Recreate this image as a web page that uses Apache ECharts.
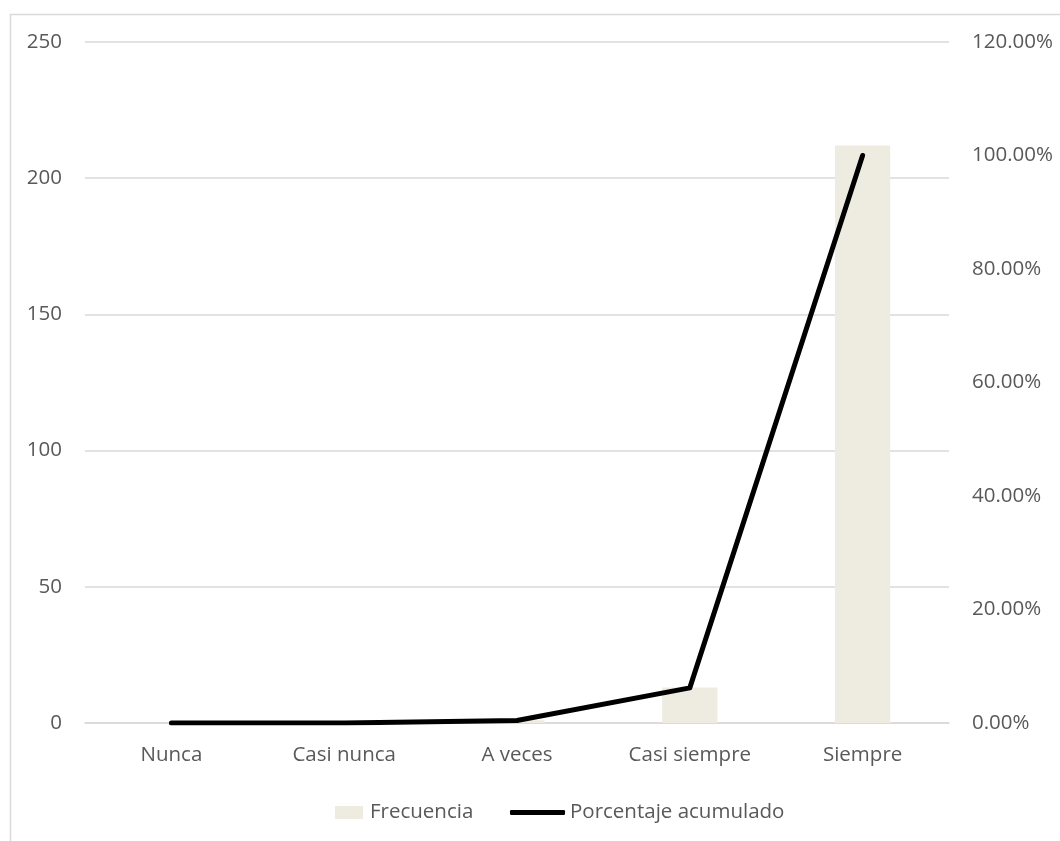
<!DOCTYPE html>
<html>
<head>
<meta charset="utf-8">
<script src="https://cdn.jsdelivr.net/npm/echarts@6/dist/echarts.min.js"></script>
<style>
html,body{margin:0;padding:0;background:#fff;}
#chart{width:1060px;height:841px;}
</style>
</head>
<body>
<div id="chart"></div>
<script>
const categories = ['Nunca', 'Casi nunca', 'A veces', 'Casi siempre', 'Siempre'];
const frecuencia = [0, 0, 1, 13, 212];
const porcentajeAcumulado = [0, 0, 0.44, 6.19, 100];
const leftTicks = {min: 0, max: 250, interval: 50};
const rightTicks = {min: 0, max: 120, interval: 20};

const FONT = 'Open Sans';
const FS = 20.5;
const TXT = '#595959';
const chart = echarts.init(document.getElementById('chart'), null, {renderer: 'canvas'});
chart.setOption({
  backgroundColor: '#ffffff',
  animation: false,
  graphic: [{
    type: 'rect', left: 8, top: 12,
    shape: {width: 1200, height: 1000},
    style: {fill: 'none', stroke: '#d9d9d9', lineWidth: 1.5},
    silent: true, z: -10
  }],
  grid: {left: 85, right: 111, top: 42, bottom: 118},
  legend: [{
    data: ['Frecuencia'], left: 330, top: 797,
    icon: 'rect', itemWidth: 28, itemHeight: 13, itemGap: 7,
    textStyle: {color: TXT, fontFamily: FONT, fontSize: FS, padding: [0,0,0,2]}
  }, {
    data: ['Porcentaje acumulado'], left: 505, top: 797,
    icon: 'roundRect', itemWidth: 55, itemHeight: 5,
    textStyle: {color: TXT, fontFamily: FONT, fontSize: FS, padding: [0,0,0,0]}
  }],
  xAxis: {
    type: 'category', data: categories,
    axisLine: {show: true, lineStyle: {color: '#d9d9d9', width: 1.5}},
    axisTick: {show: false},
    axisLabel: {color: TXT, fontFamily: FONT, fontSize: FS, margin: 22}
  },
  yAxis: [{
    type: 'value', min: leftTicks.min, max: leftTicks.max, interval: leftTicks.interval,
    axisLine: {show: false}, axisTick: {show: false},
    axisLabel: {color: TXT, fontFamily: FONT, fontSize: FS, margin: 23},
    splitLine: {lineStyle: {color: '#d9d9d9', width: 1.5}}
  }, {
    type: 'value', min: rightTicks.min, max: rightTicks.max, interval: rightTicks.interval,
    position: 'right',
    axisLine: {show: false}, axisTick: {show: false},
    axisLabel: {color: TXT, fontFamily: FONT, fontSize: FS, margin: 23,
      formatter: v => v.toFixed(2) + '%'},
    splitLine: {show: false}
  }],
  series: [{
    name: 'Frecuencia', type: 'bar', data: frecuencia, yAxisIndex: 0,
    barWidth: '32%', itemStyle: {color: '#eeece1'}
  }, {
    name: 'Porcentaje acumulado', type: 'line', data: porcentajeAcumulado, yAxisIndex: 1,
    symbol: 'none', showSymbol: false,
    lineStyle: {color: '#000000', width: 5, cap: 'round', join: 'round'},
    itemStyle: {color: '#000000'}, z: 5
  }]
});
</script>
</body>
</html>
